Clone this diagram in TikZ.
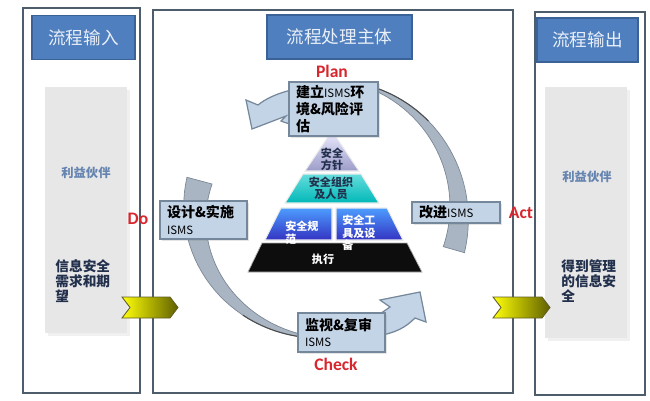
\documentclass[tikz,border=0pt]{standalone}
\usepackage{fontspec}
\setmainfont{Noto Sans CJK SC}
\newfontfamily\latinfont{Carlito}
\usetikzlibrary{shadows}

\definecolor{panelline}{HTML}{4E5D6C}
\definecolor{titlefill}{HTML}{4F7FBF}
\definecolor{titleline}{HTML}{3B6296}
\definecolor{titletext}{HTML}{EAF0F8}
\definecolor{graybox}{HTML}{E7E7E7}
\definecolor{stepfill}{HTML}{C4D4E7}
\definecolor{stepline}{HTML}{75879B}
\definecolor{bandfill}{HTML}{A9B5C3}
\definecolor{bandline}{HTML}{7C8896}
\definecolor{pdcared}{HTML}{D8262E}
\definecolor{partner}{HTML}{6584B0}
\definecolor{needtext}{HTML}{22304C}

\begin{document}
\begin{tikzpicture}[x=0.02cm, y=-0.02cm,
    panel/.style={draw=panelline, line width=1pt},
    titlebox/.style={draw=titleline, fill=titlefill, text=titletext, line width=0.8pt,
      font=\fontsize{10}{12}\selectfont, minimum height=0.88cm},
    sidebox/.style={fill=graybox, minimum width=1.64cm},
    partnertext/.style={text=partner, font=\bfseries\fontsize{7}{8}\selectfont},
    needs/.style={text=needtext, anchor=north west, inner sep=0pt, align=left,
      font=\bfseries\fontsize{7.8}{8.6}\selectfont},
    stepbox/.style={draw=stepline, fill=stepfill, line width=0.7pt, align=left,
      inner xsep=4pt, inner ysep=1pt, font=\bfseries\fontsize{8}{9.6}\selectfont,
      drop shadow={shadow xshift=1pt, shadow yshift=-1pt, opacity=0.2}},
    pdca/.style={text=pdcared, font=\latinfont\bfseries\fontsize{10}{12}\selectfont},
    band/.style={fill=bandfill, draw=bandline, line width=0.4pt},
    arrowhead/.style={fill=stepfill, draw=stepline, line width=0.7pt},
    tier/.style={draw=white!85!gray, line width=0.6pt},
    tiertext/.style={font=\bfseries\fontsize{6.3}{7}\selectfont, align=center}
  ]
  \useasboundingbox (0,0) rectangle (650,400);
  \fill[white] (0,0) rectangle (650,400);

  \newcommand{\isms}{{\mdseries\fontsize{6.5}{9.6}\selectfont ISMS}}

  % three columns
  \draw[panel] (23,8) rectangle (140,393);
  \draw[panel] (153,10) rectangle (513,393);
  \draw[panel] (535,12) rectangle (645,395);

  \node[titlebox, minimum width=2.06cm] (intitle) at (83.5,37.5) {流程输入};
  \node[titlebox, minimum width=2.9cm] (maintitle) at (339.5,37) {流程处理主体};
  \node[titlebox, minimum width=2.02cm] (outtitle) at (587.5,40) {流程输出};

  \fill[black!6] (48,90) rectangle (130,336);
  \fill[black!6] (548,90) rectangle (630,341);
  \node[sidebox, minimum height=4.92cm] (inbox) at (86,210) {};
  \node[sidebox, minimum height=5.02cm] (outbox) at (586,212.5) {};
  \node[partnertext] (inpartner) at (86,173) {利益伙伴};
  \node[partnertext] (outpartner) at (587,177) {利益伙伴};
  \node[needs] (inneeds) at (55,259) {信息安全\\需求和期\\望};
  \node[needs] (outneeds) at (561,259) {得到管理\\的信息安\\全};

  % PDCA cycle bands
  \draw[band] plot[domain=-68:16, samples=30]
      ({327+(132+1.5+9.5*(\x+68)/84)*cos(\x)}, {213+(133+1.5+9.5*(\x+68)/84)*sin(\x)})
    -- plot[domain=-16:68, samples=30]
      ({327+(132-1.5-9.5*(-\x+68)/84)*cos(-\x)}, {213+(133-1.5-9.5*(-\x+68)/84)*sin(-\x)})
    -- cycle;
  \draw[band] plot[domain=103:195, samples=30]
      ({327+(132+1.5+11.5*(\x-103)/92)*cos(\x)}, {213+(125+1.5+11.5*(\x-103)/92)*sin(\x)})
    -- plot[domain=-195:-103, samples=30]
      ({327+(132-1.5-11.5*(-\x-103)/92)*cos(-\x)}, {213+(125-1.5-11.5*(-\x-103)/92)*sin(-\x)})
    -- cycle;
  \draw[black!70, line width=0.6pt] plot[domain=-68:-42, samples=12]
      ({327+(133.5+9.5*(\x+68)/84)*cos(\x)}, {213+(134.5+9.5*(\x+68)/84)*sin(\x)});
  \draw[black!70, line width=0.6pt] plot[domain=103:128, samples=12]
      ({327+(133.5+11.5*(\x-103)/92)*cos(\x)}, {213+(126.5+11.5*(\x-103)/92)*sin(\x)});

  \draw[arrowhead] (296,89) .. controls (276,93) and (264,100) .. (258,105) -- (246,100)
    -- (252,129) -- (286,116) -- (281,121) .. controls (286,123) .. (296,125) -- cycle;
  \draw[arrowhead] (377,316) .. controls (384,312) .. (390,307) -- (380,300) -- (420,292)
    -- (426,322) -- (415,318) .. controls (405,328) and (395,333) .. (377,336) -- cycle;

  % pyramid
  \shade[tier, top color=white!75!blue!30, bottom color=blue!30!gray!60]
    (332,131) -- (359,171) -- (305,171) -- cycle;
  \shade[tier, top color=cyan!55!teal!60, bottom color=cyan!60!teal!90!black]
    (303,174) -- (361,174) -- (379,203) -- (285,203) -- cycle;
  \shade[tier, top color=blue!55!cyan!70, bottom color=blue!70!black!80]
    (281,208) -- (332,208) -- (332,240) -- (265,240) -- cycle;
  \shade[tier, top color=blue!55!cyan!70, bottom color=blue!70!black!80]
    (336,208) -- (387,208) -- (403,240) -- (336,240) -- cycle;
  \fill[black!95, draw=gray!60, line width=0.4pt] (262,243) -- (407,243) -- (422,272) -- (248,272) -- cycle;

  \node[tiertext, text=needtext] (policy) at (332,159) {安全\\方针};
  \node[tiertext, text=needtext] (staff) at (331,188) {安全组织\\及人员};
  \node[tiertext, text=white, anchor=north west, inner sep=0pt, align=left] (rules) at (285,221) {安全规\\范};
  \node[tiertext, text=white, anchor=north west, inner sep=0pt, align=left] (tools) at (342,215) {安全工\\具及设\\备};
  \node[tiertext, text=white] (execute) at (323,259) {执行};

  % stage boxes
  \node[stepbox, text width=1.5cm, minimum height=1.08cm] (plan) at (333.5,109)
    {建立\isms 环\\境\&风险评\\估};
  \node[stepbox, text width=1.46cm, minimum height=0.76cm] (do) at (203.5,220)
    {设计\&实施\\\isms};
  \node[stepbox, text width=1.46cm, minimum height=0.78cm] (check) at (341.5,332.5)
    {监视\&复审\\\isms};
  \node[stepbox, text width=1.48cm, minimum height=0.42cm] (act) at (456,212.5)
    {改进\isms};

  \node[pdca] (plantag) at (332,71) {Plan};
  \node[pdca] (dotag) at (138,219) {Do};
  \node[pdca] (checktag) at (336,364) {Check};
  \node[pdca] (acttag) at (521,213) {Act};

  % input / output arrows
  \shade[left color=yellow!95!white, right color=olive!75!black, draw=olive!60!black, line width=0.5pt]
    (122,297) -- (170,297) -- (178,307.5) -- (170,318) -- (122,318) -- (130,307.5) -- cycle;
  \shade[left color=yellow!95!white, right color=olive!75!black, draw=olive!60!black, line width=0.5pt]
    (493,297) -- (542,297) -- (550,307.5) -- (542,318) -- (493,318) -- (501,307.5) -- cycle;
\end{tikzpicture}
\end{document}
